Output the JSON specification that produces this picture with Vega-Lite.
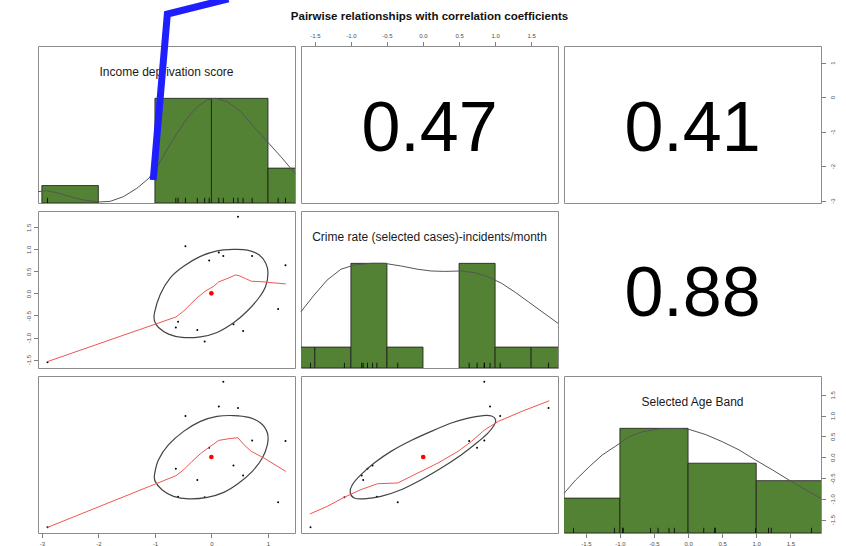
{
"$schema": "https://vega.github.io/schema/vega-lite/v6.json",
"padding": {"left": 24, "top": -16, "right": 5, "bottom": 5},
"columns": 3,
"spacing": {"row": 8, "column": 6},
"bounds": "flush",
"datasets": {
"pts": [
{"v1":-2.90,"v2":-1.56,"v3":-1.68},
{"v1":0.21,"v2":0.85,"v3":1.81},
{"v1":-0.46,"v2":1.07,"v3":0.99},
{"v1":0.13,"v2":0.93,"v3":1.22},
{"v1":0.47,"v2":1.74,"v3":1.18},
{"v1":0.72,"v2":0.85,"v3":0.40},
{"v1":1.31,"v2":0.64,"v3":0.39},
{"v1":-0.04,"v2":0.75,"v3":0.23},
{"v1":-0.63,"v2":-0.77,"v3":-0.28},
{"v1":0.39,"v2":-0.70,"v3":-0.20},
{"v1":0.56,"v2":-0.85,"v3":-0.44},
{"v1":-0.25,"v2":-0.83,"v3":-0.55},
{"v1":-0.12,"v2":-1.09,"v3":-0.96},
{"v1":1.18,"v2":-0.35,"v3":-1.08},
{"v1":-0.59,"v2":-0.64,"v3":-0.95}
],
"h1": [{"lo":-3,"hi":-2,"h":0.1667},{"lo":-1,"hi":0,"h":1},{"lo":0,"hi":1,"h":1},{"lo":1,"hi":2,"h":0.3333}],
"h2": [{"lo":-2,"hi":-1.5,"h":0.2},{"lo":-1.5,"hi":-1,"h":0.2},{"lo":-1,"hi":-0.5,"h":1},{"lo":-0.5,"hi":0,"h":0.2},{"lo":0.5,"hi":1,"h":1},{"lo":1,"hi":1.5,"h":0.2},{"lo":1.5,"hi":2,"h":0.2}],
"h3": [{"lo":-2,"hi":-1,"h":0.3333},{"lo":-1,"hi":0,"h":1},{"lo":0,"hi":1,"h":0.6667},{"lo":1,"hi":2,"h":0.5}],
"d1": [{"x":-3.068,"y":0.108},{"x":-2.92,"y":0.118},{"x":-2.74,"y":0.099},{"x":-2.50,"y":0.06},{"x":-2.27,"y":0.029},{"x":-1.97,"y":0.01},{"x":-1.79,"y":0.016},{"x":-1.56,"y":0.06},{"x":-1.32,"y":0.14},{"x":-1.11,"y":0.235},{"x":-0.96,"y":0.347},{"x":-0.79,"y":0.506},{"x":-0.61,"y":0.666},{"x":-0.43,"y":0.809},{"x":-0.25,"y":0.92},{"x":-0.08,"y":0.984},{"x":0.07,"y":1.0},{"x":0.28,"y":0.968},{"x":0.52,"y":0.872},{"x":0.75,"y":0.729},{"x":0.99,"y":0.585},{"x":1.23,"y":0.442},{"x":1.478,"y":0.283}],
"d2": [{"x":-1.692,"y":0.538},{"x":-1.51,"y":0.697},{"x":-1.33,"y":0.84},{"x":-1.14,"y":0.943},{"x":-0.956,"y":0.984},{"x":-0.72,"y":1.0},{"x":-0.537,"y":1.0},{"x":-0.30,"y":0.974},{"x":-0.07,"y":0.943},{"x":0.11,"y":0.927},{"x":0.30,"y":0.923},{"x":0.53,"y":0.927},{"x":0.72,"y":0.91},{"x":0.90,"y":0.872},{"x":1.09,"y":0.809},{"x":1.28,"y":0.723},{"x":1.46,"y":0.633},{"x":1.65,"y":0.538},{"x":1.872,"y":0.427}],
"d3": [{"x":-1.82,"y":0.379},{"x":-1.65,"y":0.506},{"x":-1.45,"y":0.633},{"x":-1.26,"y":0.745},{"x":-1.06,"y":0.831},{"x":-0.865,"y":0.92},{"x":-0.67,"y":0.968},{"x":-0.425,"y":0.995},{"x":-0.18,"y":0.998},{"x":0.015,"y":0.99},{"x":0.26,"y":0.94},{"x":0.50,"y":0.873},{"x":0.75,"y":0.793},{"x":0.99,"y":0.697},{"x":1.24,"y":0.602},{"x":1.48,"y":0.506},{"x":1.73,"y":0.411},{"x":1.95,"y":0.331}],
"e21": [{"i":1,"x":-1.007,"y":-0.435},{"i":2,"x":-0.906,"y":-0.023},{"i":3,"x":-0.728,"y":0.353},{"i":4,"x":-0.492,"y":0.616},{"i":5,"x":-0.195,"y":0.841},{"i":6,"x":0.10,"y":0.968},{"i":7,"x":0.397,"y":1.0},{"i":8,"x":0.634,"y":0.985},{"i":9,"x":0.84,"y":0.878},{"i":10,"x":0.959,"y":0.691},{"i":11,"x":1.0,"y":0.466},{"i":12,"x":0.959,"y":0.165},{"i":13,"x":0.84,"y":-0.097},{"i":14,"x":0.634,"y":-0.399},{"i":15,"x":0.397,"y":-0.66},{"i":16,"x":0.10,"y":-0.885},{"i":17,"x":-0.195,"y":-0.984},{"i":18,"x":-0.52,"y":-0.998},{"i":19,"x":-0.758,"y":-0.923},{"i":20,"x":-0.936,"y":-0.773},{"i":21,"x":-1.007,"y":-0.624}],
"e31": [{"i":1,"x":-1.007,"y":-0.42},{"i":2,"x":-0.936,"y":-0.06},{"i":3,"x":-0.758,"y":0.30},{"i":4,"x":-0.492,"y":0.62},{"i":5,"x":-0.195,"y":0.86},{"i":6,"x":0.10,"y":0.98},{"i":7,"x":0.397,"y":1.0},{"i":8,"x":0.663,"y":0.955},{"i":9,"x":0.87,"y":0.82},{"i":10,"x":0.99,"y":0.58},{"i":11,"x":0.99,"y":0.30},{"i":12,"x":0.90,"y":-0.02},{"i":13,"x":0.723,"y":-0.34},{"i":14,"x":0.485,"y":-0.62},{"i":15,"x":0.218,"y":-0.845},{"i":16,"x":-0.076,"y":-0.965},{"i":17,"x":-0.403,"y":-1.0},{"i":18,"x":-0.67,"y":-0.94},{"i":19,"x":-0.876,"y":-0.78},{"i":20,"x":-0.995,"y":-0.58}],
"e32": [{"i":1,"x":-1.01,"y":-0.845},{"i":2,"x":-0.98,"y":-0.66},{"i":3,"x":-0.86,"y":-0.42},{"i":4,"x":-0.677,"y":-0.14},{"i":5,"x":-0.444,"y":0.14},{"i":6,"x":-0.165,"y":0.40},{"i":7,"x":0.114,"y":0.62},{"i":8,"x":0.393,"y":0.82},{"i":9,"x":0.625,"y":0.94},{"i":10,"x":0.835,"y":1.0},{"i":11,"x":0.95,"y":0.99},{"i":12,"x":1.007,"y":0.90},{"i":13,"x":0.99,"y":0.78},{"i":14,"x":0.90,"y":0.58},{"i":15,"x":0.742,"y":0.34},{"i":16,"x":0.533,"y":0.06},{"i":17,"x":0.254,"y":-0.26},{"i":18,"x":-0.025,"y":-0.54},{"i":19,"x":-0.304,"y":-0.78},{"i":20,"x":-0.583,"y":-0.94},{"i":21,"x":-0.816,"y":-1.0},{"i":22,"x":-0.956,"y":-0.98}],
"l21": [{"x":-2.90,"y":-1.547},{"x":-0.627,"y":-0.533},{"x":-0.49,"y":-0.398},{"x":-0.373,"y":-0.248},{"x":-0.254,"y":-0.098},{"x":-0.107,"y":0.053},{"x":0.041,"y":0.165},{"x":0.13,"y":0.263},{"x":0.278,"y":0.338},{"x":0.426,"y":0.42},{"x":0.485,"y":0.405},{"x":0.604,"y":0.338},{"x":0.705,"y":0.278},{"x":0.93,"y":0.263},{"x":1.107,"y":0.24},{"x":1.314,"y":0.218}],
"l31": [{"x":-2.90,"y":-1.685},{"x":-0.627,"y":-0.444},{"x":-0.49,"y":-0.30},{"x":-0.343,"y":-0.10},{"x":-0.195,"y":0.084},{"x":-0.036,"y":0.244},{"x":0.13,"y":0.404},{"x":0.308,"y":0.444},{"x":0.467,"y":0.468},{"x":0.574,"y":0.30},{"x":0.705,"y":0.14},{"x":0.93,"y":-0.02},{"x":1.314,"y":-0.34}],
"l32": [{"x":-1.57,"y":-1.364},{"x":-1.328,"y":-1.18},{"x":-1.095,"y":-0.965},{"x":-0.863,"y":-0.78},{"x":-0.63,"y":-0.636},{"x":-0.351,"y":-0.62},{"x":-0.073,"y":-0.38},{"x":0.207,"y":-0.14},{"x":0.486,"y":0.14},{"x":0.672,"y":0.38},{"x":0.858,"y":0.66},{"x":1.044,"y":0.86},{"x":1.37,"y":1.10},{"x":1.751,"y":1.356}],
"blue": [{"x":-1.03,"y":0.22},{"x":-0.78,"y":1.805},{"x":0.30,"y":1.951}]
},
"concat": [
{
"width": 257, "height": 157,
"layer": [
{"data": {"name": "h1"}, "mark": {"type": "rect", "clip": true, "fill": "#538234", "stroke": "#1a1a1a", "strokeWidth": 0.8},
 "encoding": {"x": {"field": "lo", "type": "quantitative", "scale": {"domain": [-3.068, 1.478], "nice": false, "zero": false}, "axis": null}, "x2": {"field": "hi"}, "y": {"field": "h", "type": "quantitative", "scale": {"domain": [0, 1.5], "nice": false, "zero": false}, "axis": null}, "y2": {"datum": 0}}},
{"data": {"name": "d1"}, "mark": {"type": "line", "stroke": "#555555", "strokeWidth": 1}, "encoding": {"x": {"field": "x", "type": "quantitative"}, "y": {"field": "y", "type": "quantitative"}}},
{"data": {"name": "pts"}, "mark": {"type": "rule", "stroke": "#000000", "strokeWidth": 0.8}, "encoding": {"x": {"field": "v1", "type": "quantitative"}, "y": {"datum": 0}, "y2": {"datum": 0.05}}},
{"data": {"values": [{"name": "Income deprivation score"}]}, "mark": {"type": "text", "fontSize": 12, "font": "Liberation Sans", "color": "#1a1a1a", "baseline": "middle", "align": "center"}, "encoding": {"y": {"datum": 1.25}, "text": {"field": "name"}}},
{"data": {"name": "blue"}, "mark": {"type": "line", "stroke": "#1e1eff", "strokeWidth": 7, "strokeCap": "butt", "strokeJoin": "miter"}, "encoding": {"x": {"field": "x", "type": "quantitative"}, "y": {"field": "y", "type": "quantitative"}}}
]
},
{
"width": 257, "height": 157,
"title": {"text": "Pairwise relationships with correlation coefficients", "fontSize": 11.5, "font": "Liberation Sans", "fontWeight": "bold", "color": "#111111", "anchor": "middle", "offset": 10},
"layer": [
{"data": {"name": "pts"}, "mark": {"type": "point", "opacity": 0}, "encoding": {"x": {"field": "v2", "type": "quantitative", "scale": {"domain": [-1.692, 1.872], "nice": false, "zero": false}, "axis": {"orient": "top", "values": [-1.5, -1, -0.5, 0, 0.5, 1, 1.5], "format": ".1f", "title": null, "labelAngle": 0, "labelOverlap": false, "labelPadding": 3.5}}, "y": {"field": "v1", "type": "quantitative", "scale": {"domain": [-3.068, 1.478], "nice": false, "zero": false}, "axis": null}}},
{"data": {"values": [{"r": "0.47"}]}, "mark": {"type": "text", "fontSize": 70, "font": "Liberation Sans", "color": "#000000", "baseline": "middle", "align": "center", "dy": 5}, "encoding": {"text": {"field": "r"}}}
]
},
{
"width": 257, "height": 157,
"layer": [
{"data": {"name": "pts"}, "mark": {"type": "point", "opacity": 0}, "encoding": {"x": {"field": "v3", "type": "quantitative", "scale": {"domain": [-1.82, 1.95], "nice": false, "zero": false}, "axis": null}, "y": {"field": "v1", "type": "quantitative", "scale": {"domain": [-3.068, 1.478], "nice": false, "zero": false}, "axis": {"orient": "right", "values": [-3, -2, -1, 0, 1], "format": "d", "title": null, "labelAngle": -90, "labelAlign": "center", "labelBaseline": "top", "labelOverlap": false, "labelPadding": 3.5}}}},
{"data": {"values": [{"r": "0.41"}]}, "mark": {"type": "text", "fontSize": 70, "font": "Liberation Sans", "color": "#000000", "baseline": "middle", "align": "center", "dy": 5}, "encoding": {"text": {"field": "r"}}}
]
},
{
"width": 257, "height": 157,
"resolve": {"scale": {"y": "independent"}},
"layer": [
{"layer": [
{"data": {"name": "pts"}, "mark": {"type": "circle", "size": 4, "color": "#000000", "opacity": 1}, "encoding": {"x": {"field": "v1", "type": "quantitative", "scale": {"domain": [-3.068, 1.478], "nice": false, "zero": false}, "axis": null}, "y": {"field": "v2", "type": "quantitative", "scale": {"domain": [-1.692, 1.872], "nice": false, "zero": false}, "axis": null}}},
{"data": {"name": "e21"}, "mark": {"type": "line", "interpolate": "cardinal-closed", "stroke": "#444444", "strokeWidth": 1.2}, "encoding": {"x": {"field": "x", "type": "quantitative"}, "y": {"field": "y", "type": "quantitative"}, "order": {"field": "i"}}},
{"data": {"name": "l21"}, "mark": {"type": "line", "stroke": "#f05555", "strokeWidth": 1}, "encoding": {"x": {"field": "x", "type": "quantitative"}, "y": {"field": "y", "type": "quantitative"}}},
{"data": {"name": "pts"}, "mark": {"type": "circle", "size": 22, "color": "#ff0000", "opacity": 1}, "encoding": {"x": {"aggregate": "mean", "field": "v1", "type": "quantitative"}, "y": {"aggregate": "mean", "field": "v2", "type": "quantitative"}}}
]},
{"data": {"name": "pts"}, "mark": {"type": "point", "opacity": 0}, "encoding": {"y": {"field": "v2", "type": "quantitative", "scale": {"domain": [-1.692, 1.872], "nice": false, "zero": false}, "axis": {"orient": "left", "values": [-1.5, -1, -0.5, 0, 0.5, 1, 1.5], "format": ".1f", "title": null, "labelAngle": -90, "labelAlign": "center", "labelBaseline": "bottom", "labelOverlap": false}}}}
]
},
{
"width": 257, "height": 157,
"layer": [
{"data": {"name": "h2"}, "mark": {"type": "rect", "clip": true, "fill": "#538234", "stroke": "#1a1a1a", "strokeWidth": 0.8},
 "encoding": {"x": {"field": "lo", "type": "quantitative", "scale": {"domain": [-1.692, 1.872], "nice": false, "zero": false}, "axis": null}, "x2": {"field": "hi"}, "y": {"field": "h", "type": "quantitative", "scale": {"domain": [0, 1.5], "nice": false, "zero": false}, "axis": null}, "y2": {"datum": 0}}},
{"data": {"name": "d2"}, "mark": {"type": "line", "stroke": "#555555", "strokeWidth": 1}, "encoding": {"x": {"field": "x", "type": "quantitative"}, "y": {"field": "y", "type": "quantitative"}}},
{"data": {"name": "pts"}, "mark": {"type": "rule", "stroke": "#000000", "strokeWidth": 0.8}, "encoding": {"x": {"field": "v2", "type": "quantitative"}, "y": {"datum": 0}, "y2": {"datum": 0.05}}},
{"data": {"values": [{"name": "Crime rate (selected cases)-incidents/month"}]}, "mark": {"type": "text", "fontSize": 12, "font": "Liberation Sans", "color": "#1a1a1a", "baseline": "middle", "align": "center"}, "encoding": {"y": {"datum": 1.25}, "text": {"field": "name"}}}
]
},
{
"width": 257, "height": 157,
"data": {"values": [{"r": "0.88"}]},
"mark": {"type": "text", "fontSize": 70, "font": "Liberation Sans", "color": "#000000", "baseline": "middle", "align": "center", "dy": 5},
"encoding": {"text": {"field": "r"}}
},
{
"width": 257, "height": 157,
"layer": [
{"data": {"name": "pts"}, "mark": {"type": "circle", "size": 4, "color": "#000000", "opacity": 1}, "encoding": {"x": {"field": "v1", "type": "quantitative", "scale": {"domain": [-3.068, 1.478], "nice": false, "zero": false}, "axis": {"orient": "bottom", "values": [-3, -2, -1, 0, 1], "format": "d", "title": null, "labelAngle": 0, "labelOverlap": false}}, "y": {"field": "v3", "type": "quantitative", "scale": {"domain": [-1.82, 1.95], "nice": false, "zero": false}, "axis": null}}},
{"data": {"name": "e31"}, "mark": {"type": "line", "interpolate": "cardinal-closed", "stroke": "#444444", "strokeWidth": 1.2}, "encoding": {"x": {"field": "x", "type": "quantitative"}, "y": {"field": "y", "type": "quantitative"}, "order": {"field": "i"}}},
{"data": {"name": "l31"}, "mark": {"type": "line", "stroke": "#f05555", "strokeWidth": 1}, "encoding": {"x": {"field": "x", "type": "quantitative"}, "y": {"field": "y", "type": "quantitative"}}},
{"data": {"name": "pts"}, "mark": {"type": "circle", "size": 22, "color": "#ff0000", "opacity": 1}, "encoding": {"x": {"aggregate": "mean", "field": "v1", "type": "quantitative"}, "y": {"aggregate": "mean", "field": "v3", "type": "quantitative"}}}
]
},
{
"width": 257, "height": 157,
"layer": [
{"data": {"name": "pts"}, "mark": {"type": "circle", "size": 4, "color": "#000000", "opacity": 1}, "encoding": {"x": {"field": "v2", "type": "quantitative", "scale": {"domain": [-1.692, 1.872], "nice": false, "zero": false}, "axis": null}, "y": {"field": "v3", "type": "quantitative", "scale": {"domain": [-1.82, 1.95], "nice": false, "zero": false}, "axis": null}}},
{"data": {"name": "e32"}, "mark": {"type": "line", "interpolate": "cardinal-closed", "stroke": "#444444", "strokeWidth": 1.2}, "encoding": {"x": {"field": "x", "type": "quantitative"}, "y": {"field": "y", "type": "quantitative"}, "order": {"field": "i"}}},
{"data": {"name": "l32"}, "mark": {"type": "line", "stroke": "#f05555", "strokeWidth": 1}, "encoding": {"x": {"field": "x", "type": "quantitative"}, "y": {"field": "y", "type": "quantitative"}}},
{"data": {"name": "pts"}, "mark": {"type": "circle", "size": 22, "color": "#ff0000", "opacity": 1}, "encoding": {"x": {"aggregate": "mean", "field": "v2", "type": "quantitative"}, "y": {"aggregate": "mean", "field": "v3", "type": "quantitative"}}}
]
},
{
"width": 257, "height": 157,
"resolve": {"scale": {"y": "independent"}},
"layer": [
{"layer": [
{"data": {"name": "h3"}, "mark": {"type": "rect", "clip": true, "fill": "#538234", "stroke": "#1a1a1a", "strokeWidth": 0.8},
 "encoding": {"x": {"field": "lo", "type": "quantitative", "scale": {"domain": [-1.82, 1.95], "nice": false, "zero": false}, "axis": {"orient": "bottom", "values": [-1.5, -1, -0.5, 0, 0.5, 1, 1.5], "format": ".1f", "title": null, "labelAngle": 0, "labelOverlap": false}}, "x2": {"field": "hi"}, "y": {"field": "h", "type": "quantitative", "scale": {"domain": [0, 1.5], "nice": false, "zero": false}, "axis": null}, "y2": {"datum": 0}}},
{"data": {"name": "d3"}, "mark": {"type": "line", "stroke": "#555555", "strokeWidth": 1}, "encoding": {"x": {"field": "x", "type": "quantitative"}, "y": {"field": "y", "type": "quantitative"}}},
{"data": {"name": "pts"}, "mark": {"type": "rule", "stroke": "#000000", "strokeWidth": 0.8}, "encoding": {"x": {"field": "v3", "type": "quantitative"}, "y": {"datum": 0}, "y2": {"datum": 0.05}}},
{"data": {"values": [{"name": "Selected Age Band"}]}, "mark": {"type": "text", "fontSize": 12, "font": "Liberation Sans", "color": "#1a1a1a", "baseline": "middle", "align": "center"}, "encoding": {"y": {"datum": 1.25}, "text": {"field": "name"}}}
]},
{"data": {"name": "pts"}, "mark": {"type": "point", "opacity": 0}, "encoding": {"y": {"field": "v3", "type": "quantitative", "scale": {"domain": [-1.82, 1.95], "nice": false, "zero": false}, "axis": {"orient": "right", "values": [-1.5, -1, -0.5, 0, 0.5, 1, 1.5], "format": ".1f", "title": null, "labelAngle": -90, "labelAlign": "center", "labelBaseline": "top", "labelOverlap": false, "labelPadding": 3.5}}}}
]
}
],
"config": {
"locale": {"number": {"decimal": ".", "thousands": ",", "grouping": [3], "currency": ["$", ""], "minus": "-"}},
"font": "Liberation Sans",
"background": "#ffffff",
"view": {"stroke": "#8c8c8c", "strokeWidth": 1},
"axis": {"domain": false, "grid": false, "ticks": true, "tickColor": "#7f7f7f", "tickSize": 4.5, "tickWidth": 1, "labelFont": "Liberation Sans", "labelFontSize": 6, "labelColor": "#4d4d4d", "labelPadding": 2.5, "labelOverlap": false, "labelFlush": false}
}
}
